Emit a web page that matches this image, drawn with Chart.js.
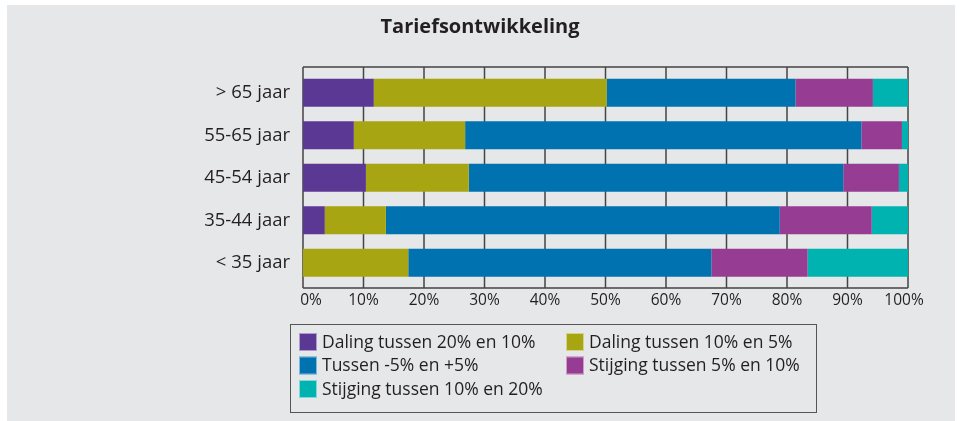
<!DOCTYPE html>
<html>
<head>
<meta charset="utf-8">
<script src="https://cdn.jsdelivr.net/npm/chart.js@4/dist/chart.umd.min.js"></script>
<style>
  html, body { margin: 0; padding: 0; background: #fff; }
  #wrap { width: 960px; height: 421px; }
</style>
</head>
<body>
<div id="wrap"><canvas id="tarief"></canvas></div>
<script>
const categories = ['> 65 jaar', '55-65 jaar', '45-54 jaar', '35-44 jaar', '< 35 jaar'];
const seriesLabels = [
  'Daling tussen 20% en 10%',
  'Daling tussen 10% en 5%',
  'Tussen -5% en +5%',
  'Stijging tussen 5% en 10%',
  'Stijging tussen 10% en 20%'
];
const dalingGroot   = [11.7,  8.4, 10.4,  3.6,  0.0];
const dalingKlein   = [38.5, 18.4, 17.0, 10.1, 17.4];
const stabiel       = [31.2, 65.5, 61.9, 65.1, 50.1];
const stijgingKlein = [12.8,  6.7,  9.2, 15.2, 15.9];
const stijgingGroot = [ 5.8,  1.0,  1.5,  6.0, 16.6];
const xTicks = [0, 10, 20, 30, 40, 50, 60, 70, 80, 90, 100];
const titleText = 'Tariefsontwikkeling';

const colors = ['#5b3894', '#a8a512', '#0072b0', '#973c93', '#00b2b0'];
const FONT = "'Open Sans', sans-serif";
const INK = '#231f20';

// grey panel, title, frame + grid (frame sits a bit outside the bar band)
const panel = {
  id: 'panel',
  beforeDraw(chart) {
    const ctx = chart.ctx;
    ctx.save();
    ctx.fillStyle = '#e6e7e9';
    ctx.fillRect(7, 5, 948, chart.height - 5);
    ctx.fillStyle = INK;
    ctx.font = 'bold 20px ' + FONT;
    ctx.textAlign = 'center';
    ctx.textBaseline = 'middle';
    ctx.fillText(titleText, 480, 27);
    ctx.restore();
  },
  beforeDatasetsDraw(chart) {
    const { ctx, chartArea: a } = chart;
    const xs = chart.scales.x;
    const top = a.top - 4.5, bottom = a.bottom + 4;
    ctx.save();
    ctx.strokeStyle = '#444';
    ctx.lineWidth = 1.5;
    ctx.beginPath();
    ctx.moveTo(a.left, top); ctx.lineTo(a.right, top);
    ctx.moveTo(a.left, bottom); ctx.lineTo(a.right, bottom);
    xs.ticks.forEach(t => {
      const px = xs.getPixelForValue(t.value);
      ctx.moveTo(px, top); ctx.lineTo(px, bottom);
    });
    ctx.stroke();
    ctx.fillStyle = INK;
    ctx.font = '15.5px ' + FONT;
    ctx.textAlign = 'center';
    ctx.textBaseline = 'middle';
    xs.ticks.forEach((t, i) => {
      let px = xs.getPixelForValue(t.value);
      if (i === 0) px += 8;
      if (i === xs.ticks.length - 1) px -= 4;
      ctx.fillText(t.value + '%', px, bottom + 13);
    });
    ctx.restore();
  }
};

// two column legend in a box, under the axis
const boxLegend = {
  id: 'boxLegend',
  afterDraw(chart) {
    const { ctx, chartArea: a } = chart;
    const left = a.left - 13, top = a.bottom + 40;
    ctx.save();
    ctx.strokeStyle = '#555';
    ctx.lineWidth = 1;
    ctx.strokeRect(left + 0.5, top + 0.5, 526, 88);
    ctx.font = '17.5px ' + FONT;
    ctx.textBaseline = 'middle';
    chart.data.datasets.forEach((ds, i) => {
      const col = i % 2, row = Math.floor(i / 2);
      const x = left + 9 + col * 267;
      const y = top + 18 + row * 23.5;
      ctx.fillStyle = ds.backgroundColor;
      ctx.fillRect(x, y - 9, 18, 18);
      ctx.strokeStyle = 'rgba(255,255,255,0.5)';
      ctx.strokeRect(x + 0.5, y - 8.5, 17, 17);
      ctx.fillStyle = INK;
      ctx.fillText(ds.label, x + 23, y + 1);
    });
    ctx.restore();
  }
};

const data = {
  labels: categories,
  datasets: [dalingGroot, dalingKlein, stabiel, stijgingKlein, stijgingGroot].map((vals, i) => ({
    label: seriesLabels[i],
    data: vals,
    backgroundColor: colors[i],
    borderWidth: 0,
    barPercentage: 0.66,
    categoryPercentage: 1
  }))
};

const config = {
  type: 'bar',
  data: data,
  options: {
    indexAxis: 'y',
    responsive: true,
    maintainAspectRatio: false,
    animation: false,
    layout: { padding: { left: 0, right: 52, top: 71.5, bottom: 0 } },
    plugins: {
      legend: { display: false },
      tooltip: { enabled: false },
      title: { display: false }
    },
    scales: {
      x: {
        stacked: true,
        min: 0,
        max: 100,
        afterBuildTicks: (scale) => { scale.ticks = xTicks.map(v => ({ value: v })); },
        afterFit: (scale) => { scale.height = 137; },
        ticks: { display: false },
        grid: { display: false },
        border: { display: false }
      },
      y: {
        stacked: true,
        afterFit: (scale) => { scale.width = 303; },
        ticks: {
          color: INK,
          padding: 5,
          font: { family: FONT, size: 18.5 }
        },
        grid: { display: false },
        border: { display: false }
      }
    }
  },
  plugins: [panel, boxLegend]
};

new Chart(document.getElementById('tarief'), config);
</script>
</body>
</html>
